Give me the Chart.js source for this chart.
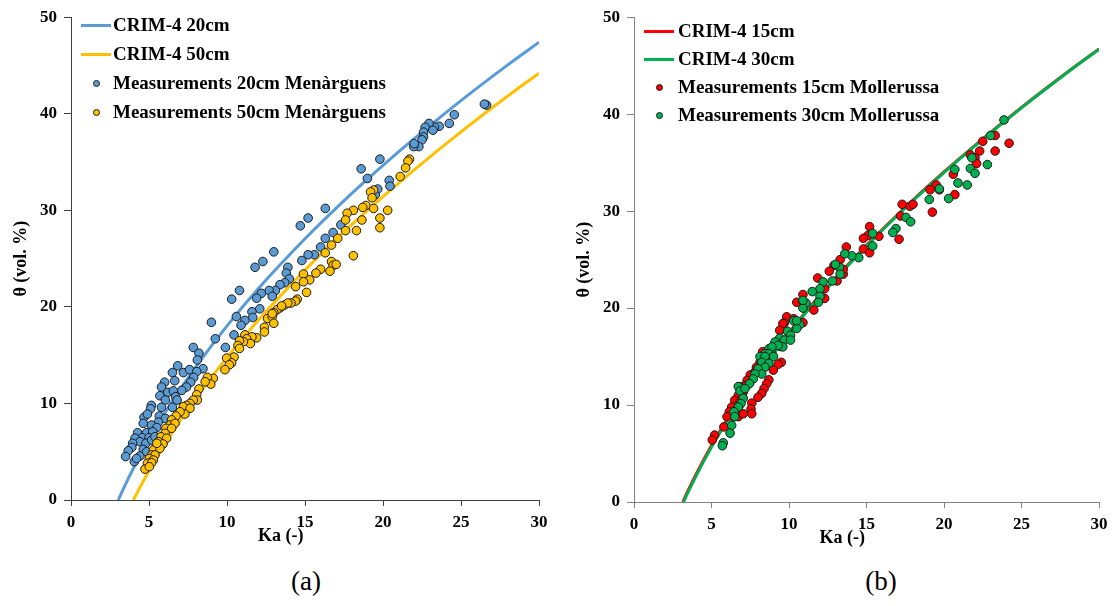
<!DOCTYPE html>
<html>
<head>
<meta charset="utf-8">
<script src="https://cdn.jsdelivr.net/npm/chart.js@4.4.1/dist/chart.umd.min.js"></script>
<style>
  html, body { margin: 0; padding: 0; background: #fff; }
  body { width: 1115px; height: 606px; position: relative; overflow: hidden; font-family: "Liberation Serif", "Times New Roman", serif; }
  canvas { position: absolute; top: 0; }
  .legend { position: absolute; font-weight: bold; font-size: 19px; color: #000; }
  .legend .row { position: absolute; left: 0; white-space: nowrap; height: 0; }
  .legend .sym { position: absolute; }
  .legend .txt { position: absolute; top: -11px; line-height: 22px; }
  .caption { position: absolute; top: 566px; font-size: 27px; color: #000; width: 60px; text-align: center; }
</style>
</head>
<body>
<canvas id="panelA" width="563" height="560" style="left:0"></canvas>
<canvas id="panelB" width="552" height="560" style="left:563px"></canvas>
<div class="legend" id="legendA"></div>
<div class="legend" id="legendB"></div>
<div class="caption" style="left:276px">(a)</div>
<div class="caption" style="left:851px">(b)</div>
<script>
// ---- CRIM-4 model curves, Ka (-) vs θ (vol. %) ----
const crim20Ka    = [3.03, 3.5, 4, 5, 6, 7, 8, 10, 12, 15, 18, 20, 22, 25, 28, 30];
const crim20Theta = [0, 1.65, 3.29, 6.28, 8.98, 11.48, 13.79, 18.03, 21.87, 27.05, 31.75, 34.66, 37.42, 41.36, 45.06, 47.41];
const crim50Ka    = [4, 4.5, 5, 6, 7, 8, 10, 12, 15, 18, 20, 22, 25, 28, 30];
const crim50Theta = [0, 1.54, 3.0, 5.71, 8.21, 10.53, 14.77, 18.61, 23.81, 28.51, 31.42, 34.19, 38.13, 41.84, 44.19];
const crim15Ka    = [3.15, 3.5, 4, 5, 6, 7, 8, 10, 12, 15, 18, 20, 22, 25, 28, 30];
const crim15Theta = [0, 1.21, 2.84, 5.82, 8.51, 10.99, 13.29, 17.50, 21.32, 26.48, 31.15, 34.04, 36.79, 40.70, 44.38, 46.72];
const crim30Ka    = [3.2, 3.5, 4, 5, 6, 7, 8, 10, 12, 15, 18, 20, 22, 25, 28, 30];
const crim30Theta = [0, 1.04, 2.67, 5.66, 8.36, 10.85, 13.15, 17.38, 21.21, 26.38, 31.07, 33.97, 36.73, 40.65, 44.35, 46.69];

// ---- Field measurements [Ka, θ] ----
const menarguens20 = [
  [26.64,40.9],[26.5,41.0],[24.57,39.9],[24.25,39.0],[23.6,38.7],[23.3,38.6],[22.95,39.0],[22.7,38.6],
  [22.6,38.1],[23.2,38.3],[22.6,37.6],[22.5,37.3],[22.3,36.6],[21.97,36.6],[22.0,36.9],[19.8,35.3],
  [18.6,34.3],[19.0,33.3],[20.4,33.1],[20.45,32.5],[19.66,32.2],[19.5,31.6],[16.3,30.2],[15.2,29.2],
  [14.7,28.4],[17.3,28.5],[16.8,27.7],[16.3,27.1],[16.0,26.2],[15.6,25.4],[15.2,25.4],[14.8,24.8],
  [13.0,25.7],[12.3,24.7],[11.8,24.1],[13.9,24.1],[13.8,23.5],[14.0,22.9],[13.7,22.5],[13.4,22.3],
  [13.1,21.7],[12.7,21.7],[12.9,21.1],[12.2,21.4],[11.9,20.9],[12.1,19.8],[11.6,19.5],[11.65,18.9],
  [11.15,18.6],[10.8,21.7],[10.9,18.1],
  [10.3,20.8],[10.45,17.1],[10.6,19.0],[9.0,18.4],[9.25,16.7],[9.9,15.8],[7.84,15.8],[8.2,15.2],
  [8.1,14.5],[8.46,13.6],[6.84,13.9],[6.5,13.2],[7.2,13.2],[7.6,13.5],[8.06,13.3],[7.86,12.7],
  [6.65,12.35],[6.0,12.2],[7.67,12.2],[7.4,11.7],[7.1,11.35],[5.8,11.7],[6.2,11.15],[6.56,11.3],
  [5.7,10.8],[6.7,10.7],[6.8,10.35],[6.05,10.35],[6.5,9.6],[5.8,9.6],[5.15,9.8],[5.1,9.45],
  [5.66,8.7],[6.05,8.45],[4.68,8.56],[4.9,8.9],[5.6,8.07],[5.15,7.76],[4.63,7.94],[5.5,7.5],
  [4.27,6.97],[4.85,6.97],[5.24,7.07],[4.55,6.45],[4.1,6.4],[5.0,6.45],[4.42,6.04],[3.95,5.87],
  [4.8,5.87],[5.17,6.2],[3.9,5.45],[4.63,5.25],[3.67,5.1],[3.5,4.5],[4.42,4.55],[4.06,3.97],
  [4.2,4.3],[4.85,5.0],[5.38,6.55]
];
const menarguens50 = [
  [21.7,35.3],[21.6,35.1],[21.45,34.4],[21.1,33.5],[19.4,32.1],[19.2,31.9],[19.3,31.3],[18.9,30.5],
  [18.7,30.3],[19.4,30.2],[20.3,30.0],[18.1,30.0],[17.7,29.7],[17.6,29.0],[18.65,29.0],[19.8,29.2],
  [19.8,28.2],[18.3,27.9],[17.6,27.9],[17.1,27.1],[16.7,26.4],[16.3,25.6],[18.1,25.3],[16.7,24.7],
  [16.8,24.3],[16.6,23.7],[17.0,24.4],[16.0,23.9],[15.7,23.5],[14.9,23.4],[15.3,22.8],[14.9,22.6],
  [14.4,22.1],[15.1,21.5],[14.5,20.8],[14.4,20.6],[14.1,20.4],[13.7,20.2],[13.4,19.9],[13.2,19.7],
  [13.0,19.4],[12.6,18.8],[12.9,19.0],[13.0,18.3],[12.4,17.9],[11.9,16.8],[11.5,16.8],[11.15,17.1],
  [13.9,20.4],[13.5,20.1],[12.9,19.3],[12.4,17.4],[11.6,16.9],[11.26,16.7],[11.5,16.2],[11.05,16.4],
  [10.8,16.5],[10.7,16.0],[10.8,15.7],[10.45,14.8],[9.98,14.7],[10.3,14.2],[10.15,14.0],[9.87,13.5],
  [9.12,12.6],[8.74,12.7],[8.96,12.0],[8.6,12.25],[8.2,11.5],[8.06,10.9],[8.1,10.35],[7.84,10.35],
  [7.63,10.0],[7.4,9.8],[7.2,9.66],[7.63,9.5],[7.3,8.9],[6.99,9.14],[6.73,8.7],[6.45,8.3],
  [6.35,7.76],[6.67,7.94],[6.09,7.42],[6.45,7.42],[6.03,6.9],[5.77,6.55],[6.13,6.4],[5.6,6.04],
  [5.9,5.8],[5.45,5.5],[5.28,5.18],[5.7,5.35],[5.17,4.66],[5.38,4.66],[5.02,4.3],[5.28,4.14],
  [4.9,3.8],[5.17,3.86],[4.74,3.2],[5.02,3.45],[5.5,5.87]
];
const mollerussa15 = [
  [24.2,37.0],[23.3,37.8],[22.5,37.2],[23.3,36.2],[22.3,36.2],[21.7,35.8],[22.0,35.5],[22.1,34.9],
  [20.6,33.8],[19.7,32.2],[19.5,32.7],[19.1,32.2],[20.7,31.7],[19.25,29.9],[17.8,30.5],[18.0,30.7],
  [17.3,30.7],[17.2,29.5],[17.1,27.1],[15.8,27.4],[15.2,28.4],[15.1,27.5],[14.8,27.2],[14.8,26.1],
  [15.2,25.7],
  [13.7,26.3],[13.3,25.0],[13.5,23.5],[13.5,24.0],[12.9,24.4],[12.6,23.8],[13.1,22.8],[11.85,23.1],
  [12.3,22.0],[10.9,21.4],[10.5,20.6],[11.6,19.8],[12.3,21.0],[9.85,19.1],[9.7,18.45],[10.3,18.9],
  [10.9,18.5],
  [9.6,18.4],[9.5,14.4],[9.3,14.2],[8.99,13.6],[8.7,12.6],[8.56,12.2],[8.39,11.7],[8.24,11.2],
  [8.0,10.8],[7.6,10.2],[7.55,9.6],[7.6,9.1],[8.3,15.5],[8.5,15.0],[8.13,14.4],[7.9,13.9],
  [7.8,13.4],[7.5,13.1],[7.3,12.55],[7.16,12.0],[6.84,11.9],[7.05,11.35],[6.73,11.0],[6.5,10.5],
  [6.84,10.3],[6.3,9.8],[6.6,9.5],[6.15,9.3],[6.4,8.8],[6.0,8.8],[5.8,7.75],[5.2,6.9],
  [5.05,6.4],[6.73,8.8],[7.05,9.1],[9.4,17.7]
];
const mollerussa30 = [
  [23.87,39.4],[23.0,37.8],[21.8,35.5],[21.7,34.4],[22.0,33.9],[22.8,34.8],[20.7,34.3],[20.9,32.9],
  [21.5,32.7],[20.3,31.3],[19.7,32.3],[19.05,31.2],[17.55,29.35],[17.85,28.9],[16.9,28.2],[16.7,27.8],
  [15.4,27.7],[15.4,26.4],[14.5,25.2],[14.05,25.4],
  [13.6,25.6],[13.25,24.2],[13.3,23.5],[12.8,22.8],[12.2,22.7],[12.0,22.0],[11.5,21.7],[12.0,21.2],
  [11.9,20.6],[10.9,20.7],[11.1,20.5],[10.9,20.0],[10.3,18.7],[10.7,18.3],[10.5,17.9],[9.9,17.6],
  [9.4,16.9],[10.1,17.2],[9.7,16.7],[9.1,16.5],[9.45,16.05],[8.7,15.8],[8.45,15.3],[8.9,15.3],
  [8.13,15.0],
  [13.0,24.5],[10.9,20.8],[10.5,18.7],[10.1,16.7],[9.6,16.0],[9.3,16.15],[8.9,16.0],[8.7,15.3],
  [9.0,15.0],[8.45,15.0],[8.24,14.4],[8.7,14.3],[8.45,13.9],[8.0,13.75],[8.24,13.2],[7.8,13.2],
  [7.7,12.7],[7.45,12.2],[6.73,11.9],[6.84,11.45],[7.05,10.7],[7.16,11.7],[6.9,10.15],[6.73,9.8],
  [6.45,9.3],[6.5,8.8],[6.3,7.9],[6.2,7.1],[5.76,6.1],[5.7,5.8]
];

// ---- Axis settings ----
const xTicks = { min: 0, max: 30, step: 5 };
const yTicks = { min: 0, max: 50, step: 10 };
const xTitle = 'Ka (-)';
const yTitle = 'θ (vol. %)';

const SERIF = '"Liberation Serif", "Times New Roman", serif';
const COLORS = { blue: '#5B9BD5', yellow: '#FFC000', red: '#FF0000', green: '#00B050' };

const curve = (xs, ys) => xs.map((x, i) => ({ x, y: ys[i] }));
const cloud = (pairs) => pairs.map(([x, y]) => ({ x, y }));

function lineSet(label, xs, ys, color, order) {
  return {
    label, data: curve(xs, ys), showLine: true, borderColor: color, backgroundColor: color,
    borderWidth: 3, pointRadius: 0, cubicInterpolationMode: 'monotone', order, kind: 'line'
  };
}
function pointSet(label, pairs, color, order) {
  return {
    label, data: cloud(pairs), showLine: false, backgroundColor: color, borderColor: '#1a1a1a',
    borderWidth: 1, pointRadius: 4.3, order, kind: 'point'
  };
}

// x-axis title drawn where the panel places it (left of centre)
const xTitlePlugin = {
  id: 'xTitle',
  afterDraw(chart, args, o) {
    const { ctx, chartArea } = chart;
    ctx.save();
    ctx.font = 'bold 18px ' + SERIF;
    ctx.fillStyle = '#000';
    ctx.textAlign = 'center';
    ctx.textBaseline = 'middle';
    ctx.fillText(o.text, chartArea.left + chartArea.width * o.at, chartArea.bottom + o.dy);
    ctx.restore();
  }
};

function buildPanel(id, datasets, p) {
  const tickFont = { family: SERIF, size: 17, weight: 'bold' };
  return new Chart(document.getElementById(id), {
    type: 'scatter',
    data: { datasets },
    options: {
      responsive: false, animation: false, devicePixelRatio: 1,
      layout: { padding: { top: p.top, right: p.right, bottom: 0, left: 0 } },
      plugins: {
        legend: { display: false }, tooltip: { enabled: false },
        xTitle: { text: xTitle, at: 0.448, dy: 36 }
      },
      scales: {
        x: {
          type: 'linear', min: xTicks.min, max: xTicks.max,
          afterFit: s => { s.height = p.xAxisHeight; },
          border: { display: true, color: p.axis, width: 1 },
          grid: { drawOnChartArea: false, drawTicks: true, tickLength: 6, color: p.axis },
          ticks: { stepSize: xTicks.step, autoSkip: false, maxRotation: 0, color: '#000', font: tickFont, padding: 6 }
        },
        y: {
          type: 'linear', min: yTicks.min, max: yTicks.max,
          afterFit: s => { s.width = 71; },
          border: { display: true, color: p.axis, width: 1 },
          grid: { drawOnChartArea: false, drawTicks: true, tickLength: 7, color: p.axis },
          ticks: { stepSize: yTicks.step, color: '#000', font: tickFont, padding: 7 },
          title: { display: true, text: yTitle, color: '#000', font: { family: SERIF, size: 18, weight: 'bold' }, padding: { top: 11, bottom: 0 } }
        }
      }
    },
    plugins: [xTitlePlugin]
  });
}

const chartA = buildPanel('panelA', [
  lineSet('CRIM-4 20cm', crim20Ka, crim20Theta, COLORS.blue, 4),
  lineSet('CRIM-4 50cm', crim50Ka, crim50Theta, COLORS.yellow, 3),
  pointSet('Measurements 20cm Menàrguens', menarguens20, COLORS.blue, 2),
  pointSet('Measurements 50cm Menàrguens', menarguens50, COLORS.yellow, 1)
], { top: 17, right: 24, xAxisHeight: 60, axis: '#404040' });

const chartB = buildPanel('panelB', [
  lineSet('CRIM-4 15cm', crim15Ka, crim15Theta, COLORS.red, 4),
  lineSet('CRIM-4 30cm', crim30Ka, crim30Theta, COLORS.green, 3),
  pointSet('Measurements 15cm Mollerussa', mollerussa15, COLORS.red, 2),
  pointSet('Measurements 30cm Mollerussa', mollerussa30, COLORS.green, 1)
], { top: 16, right: 16, xAxisHeight: 58, axis: '#808080' });

// Legend built from each chart's datasets
function buildLegend(chart, el, pos) {
  el.style.left = pos.left + 'px';
  el.style.top = pos.top + 'px';
  chart.data.datasets.forEach((ds, i) => {
    const row = document.createElement('div');
    row.className = 'row';
    row.style.top = (i * pos.gap) + 'px';
    const sym = document.createElement('div');
    sym.className = 'sym';
    if (ds.kind === 'line') {
      Object.assign(sym.style, { left: '0px', top: '-1.5px', width: '30px', height: '3px', background: ds.borderColor });
    } else {
      Object.assign(sym.style, { left: (pos.dot - 3.5) + 'px', top: '-3.5px', width: '5px', height: '5px',
        borderRadius: '50%', background: ds.backgroundColor, border: '1px solid #1a1a1a' });
    }
    const txt = document.createElement('div');
    txt.className = 'txt';
    txt.style.left = pos.textX + 'px';
    txt.textContent = ds.label;
    row.appendChild(sym);
    row.appendChild(txt);
    el.appendChild(row);
  });
}
buildLegend(chartA, document.getElementById('legendA'), { left: 81, top: 25, gap: 29, dot: 15, textX: 32 });
buildLegend(chartB, document.getElementById('legendB'), { left: 644, top: 31, gap: 28, dot: 15, textX: 34 });
</script>
</body>
</html>
